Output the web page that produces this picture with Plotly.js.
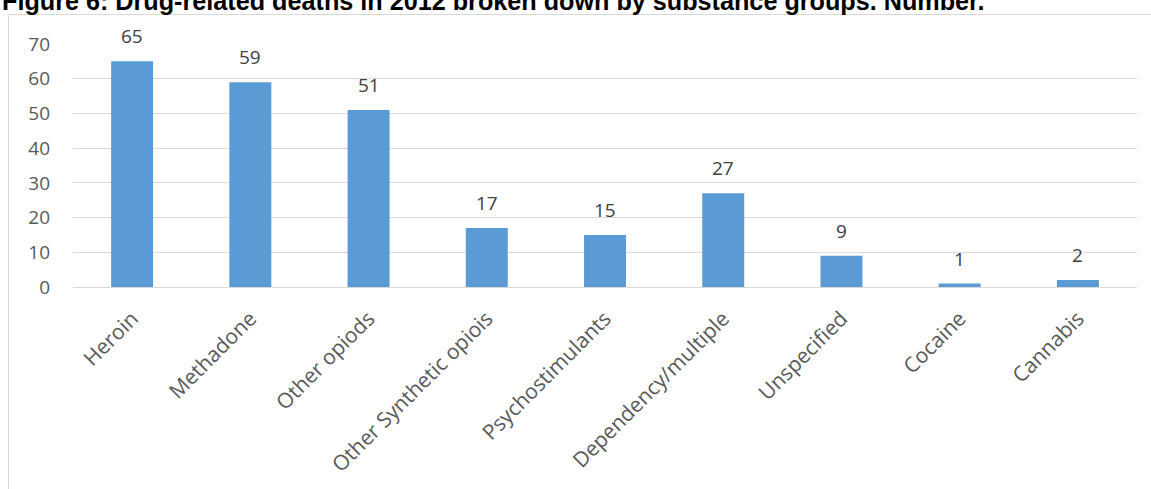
<!DOCTYPE html>
<html>
<head>
<meta charset="utf-8">
<script src="https://cdn.plot.ly/plotly-3.0.1.min.js"></script>
<style>
html,body{margin:0;padding:0;background:#fff;}
#chart{width:1151px;height:489px;}
</style>
</head>
<body>
<div id="chart"></div>
<script>
const categories = ["Heroin", "Methadone", "Other opiods", "Other Synthetic opiois", "Psychostimulants", "Dependency/multiple", "Unspecified", "Cocaine", "Cannabis"];
const deaths = [65, 59, 51, 17, 15, 27, 9, 1, 2];
const yTicks = [0, 10, 20, 30, 40, 50, 60, 70];
const titleText = "Figure 6: Drug-related deaths in 2012 broken down by substance groups. Number.";

const W = 1151, H = 489;
const m = {l: 73, r: 14, t: 44, b: 202};
const pw = W - m.l - m.r, ph = H - m.t - m.b;
const px = x => (x - m.l) / pw;
const py = y => (H - m.b - y) / ph;

const trace = {
  type: 'bar',
  x: categories,
  y: deaths,
  marker: {color: '#5B9BD5', line: {width: 0}},
  hoverinfo: 'x+y'
};

const labelAnnotations = categories.map((c, i) => ({
  x: c, y: deaths[i], xref: 'x', yref: 'y',
  text: String(deaths[i]), showarrow: false,
  yanchor: 'bottom', yshift: 10,
  font: {family: 'Open Sans', size: 19, color: '#404040'}
}));

const layout = {
  width: W, height: H,
  margin: m,
  paper_bgcolor: '#ffffff',
  plot_bgcolor: '#ffffff',
  showlegend: false,
  bargap: 0.645,
  font: {family: 'Open Sans', color: '#595959'},
  xaxis: {
    type: 'category',
    tickangle: -45,
    showgrid: false,
    showline: true, linecolor: '#d9d9d9', linewidth: 1,
    ticks: '', ticklabelstandoff: 10,
    tickfont: {family: 'Open Sans', size: 21, color: '#595959'},
    automargin: false
  },
  yaxis: {
    range: [0, 70],
    tickvals: yTicks,
    ticktext: yTicks.map(String),
    showgrid: true, gridcolor: '#d9d9d9', gridwidth: 1,
    zeroline: false, showline: false,
    ticks: '', ticklabelstandoff: 22,
    tickfont: {family: 'Open Sans', size: 19, color: '#595959'},
    automargin: false
  },
  annotations: [
    {
      xref: 'paper', yref: 'paper', x: px(0), y: py(1.5),
      xanchor: 'left', yanchor: 'middle', showarrow: false,
      text: '<b>' + titleText + '</b>',
      font: {family: 'Liberation Sans, Arial, sans-serif', size: 25.2, color: '#000000'}
    }
  ].concat(labelAnnotations),
  shapes: [
    {
      type: 'rect', xref: 'paper', yref: 'paper',
      x0: px(8.5), x1: px(1300), y0: py(800), y1: py(14.5),
      line: {color: '#d9d9d9', width: 1}, fillcolor: 'rgba(0,0,0,0)', layer: 'below'
    }
  ]
};

Plotly.newPlot('chart', [trace], layout, {displayModeBar: false, staticPlot: true});
</script>
</body>
</html>
